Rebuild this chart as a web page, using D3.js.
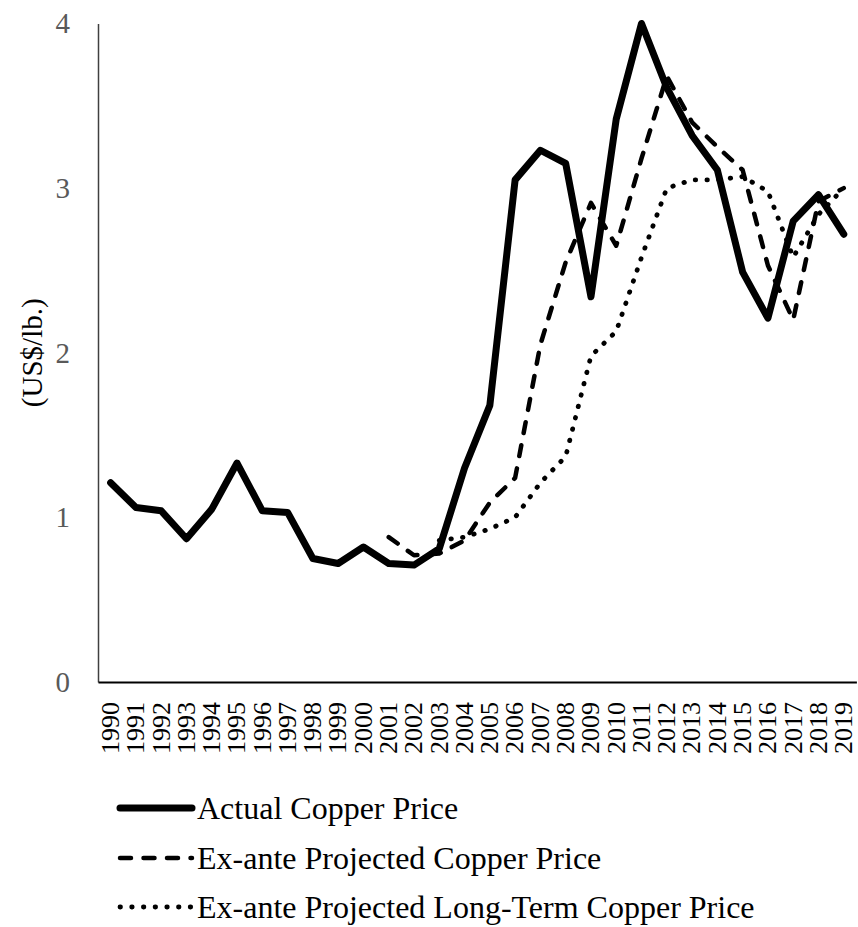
<!DOCTYPE html>
<html>
<head>
<meta charset="utf-8">
<script src="https://d3js.org/d3.v7.min.js"></script>
<style>
  body { margin: 0; background: #fff; }
  svg { display: block; font-family: "Liberation Serif", "Times New Roman", serif; }
</style>
</head>
<body>
<div id="chart"></div>
<script>
// years on the x axis
const years = ["1990","1991","1992","1993","1994","1995","1996","1997","1998","1999",
               "2000","2001","2002","2003","2004","2005","2006","2007","2008","2009",
               "2010","2011","2012","2013","2014","2015","2016","2017","2018","2019"];

// copper prices, US$/lb
const actualPrice = [1.21,1.06,1.04,0.87,1.05,1.33,1.04,1.03,0.75,0.72,
                     0.82,0.72,0.71,0.81,1.30,1.68,3.05,3.23,3.15,2.34,
                     3.42,4.00,3.61,3.32,3.11,2.49,2.21,2.80,2.96,2.72];
const projectedPrice = [null,null,null,null,null,null,null,null,null,null,
                        null,0.88,0.77,0.78,0.86,1.09,1.24,2.05,2.55,2.91,
                        2.65,3.18,3.68,3.40,3.25,3.11,2.53,2.20,2.92,3.00];
const longTermPrice = [null,null,null,null,null,null,null,null,null,null,
                       null,null,null,0.86,0.88,0.93,1.00,1.21,1.37,1.98,
                       2.13,2.58,3.00,3.05,3.05,3.07,2.98,2.58,2.84,3.00];

const yTicks = [0, 1, 2, 3, 4];
const seriesNames = ["Actual Copper Price", "Ex-ante Projected Copper Price", "Ex-ante Projected Long-Term Copper Price"];

function renderLineChart() {
    const W = 858, H = 927;
    const margin = {top: 23.5, left: 98};
    const plotW = 30 * 25.28, plotH = 658.5;

    const svg = d3.select("#chart").append("svg")
        .attr("width", W)
        .attr("height", H);

    const g = svg.append("g")
        .attr("transform", `translate(${margin.left},${margin.top})`);

    const x = d3.scaleBand().domain(years).range([0, plotW]);
    const y = d3.scaleLinear().domain([0, 4]).range([plotH, 0]);
    const cx = d => x(d) + x.bandwidth() / 2;

    // y axis
    const yAxis = g.append("g")
        .call(d3.axisLeft(y).tickValues(yTicks).tickSize(0).tickPadding(28).tickFormat(d3.format("d")));
    yAxis.select(".domain").attr("stroke", "#404040").attr("stroke-width", 1.5);
    yAxis.selectAll("text")
        .attr("fill", "#595959")
        .style("font-size", "29px")
        .style("font-family", "Liberation Serif");

    // x axis
    const xAxis = g.append("g")
        .attr("transform", `translate(0,${plotH})`)
        .call(d3.axisBottom(x).tickSize(0).tickPadding(0));
    xAxis.select(".domain").attr("stroke", "#000").attr("stroke-width", 2);
    xAxis.selectAll("text")
        .attr("transform", "rotate(-90)")
        .attr("x", -20)
        .attr("y", 0)
        .attr("dy", "0.32em")
        .style("text-anchor", "end")
        .attr("fill", "#000")
        .style("font-size", "26px")
        .style("font-family", "Liberation Serif");

    // y axis title, centred on the plot area
    svg.append("text")
        .attr("transform", `translate(32,${margin.top + plotH / 2}) rotate(-90)`)
        .attr("text-anchor", "middle")
        .attr("dy", "0.35em")
        .style("font-size", "29px")
        .text("(US$/lb.)");

    const styles = [
        {data: actualPrice, width: 7, dash: null},
        {data: projectedPrice, width: 4.5, dash: "11,12.5"},
        {data: longTermPrice, width: 4.8, dash: "0.5,11.2"}
    ];

    const line = d3.line()
        .defined(d => d.v != null)
        .x(d => cx(d.yr))
        .y(d => y(d.v));

    // draw long-term first so the actual line sits on top
    styles.slice().reverse().forEach(s => {
        g.append("path")
            .datum(years.map((yr, i) => ({yr: yr, v: s.data[i]})))
            .attr("fill", "none")
            .attr("stroke", "#000")
            .attr("stroke-width", s.width)
            .attr("stroke-linejoin", "round")
            .attr("stroke-linecap", "round")
            .attr("stroke-dasharray", s.dash)
            .attr("d", line);
    });

    // legend
    const legendY = [808, 858, 907];
    const legend = svg.append("g");
    styles.forEach((s, i) => {
        legend.append("line")
            .attr("x1", 120).attr("x2", 192)
            .attr("y1", legendY[i]).attr("y2", legendY[i])
            .attr("stroke", "#000")
            .attr("stroke-width", s.width)
            .attr("stroke-linecap", "round")
            .attr("stroke-dasharray", s.dash);
        legend.append("text")
            .attr("x", 197)
            .attr("y", legendY[i])
            .attr("dy", "0.35em")
            .style("font-size", "32px")
            .text(seriesNames[i]);
    });
}

renderLineChart();
</script>
</body>
</html>
